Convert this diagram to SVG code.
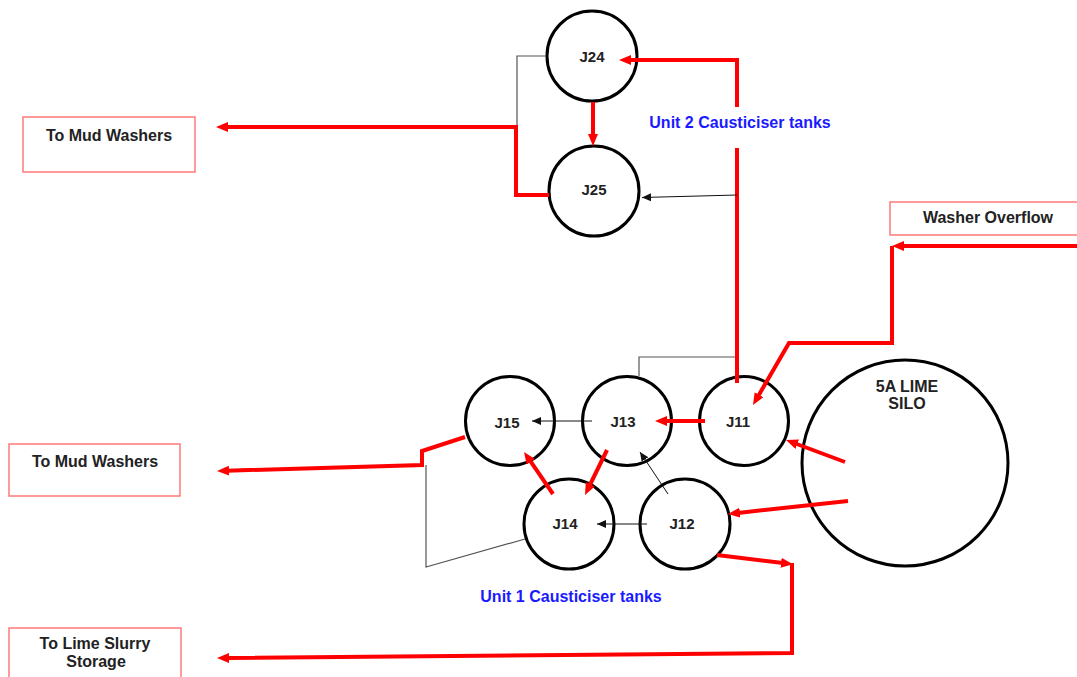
<svg xmlns="http://www.w3.org/2000/svg" width="1077" height="677" viewBox="0 0 1077 677">
<style>
.tank{fill:none;stroke:#000;stroke-width:3}
.lbl{font-family:"Liberation Sans",Arial,sans-serif;font-weight:bold;font-size:16px;fill:#222;text-anchor:middle}
.nl{font-family:"Liberation Sans",Arial,sans-serif;font-weight:bold;font-size:15px;fill:#222;text-anchor:middle}
.blue{font-family:"Liberation Sans",Arial,sans-serif;font-weight:bold;font-size:16px;fill:#1a1aff;text-anchor:middle}
.box{fill:#fff;stroke:#ff7a7a;stroke-width:1.5}
.red{fill:none;stroke:#ff0000;stroke-width:4;stroke-linejoin:miter}
.redA{fill:none;stroke:#ff0000;stroke-width:4;marker-end:url(#ra)}
.thin{fill:none;stroke:#111;stroke-width:1;marker-end:url(#ba)}
.gray{fill:none;stroke:#555;stroke-width:1.2}
</style>
<defs>
<marker id="ra" markerUnits="userSpaceOnUse" markerWidth="14" markerHeight="12" refX="2" refY="5" orient="auto">
<path d="M0,0 L12,5 L0,10 z" fill="#ff0000"/>
</marker>
<marker id="ba" markerUnits="userSpaceOnUse" markerWidth="10" markerHeight="10" refX="9" refY="4" orient="auto">
<path d="M0,0 L9,4 L0,8 z" fill="#111"/>
</marker>
</defs>
<rect width="1077" height="677" fill="#fff"/>
<g id="J24"><circle class="tank" cx="592" cy="56" r="45"/><text class="nl" x="592" y="62">J24</text></g>
<g id="J25"><circle class="tank" cx="594" cy="191" r="45"/><text class="nl" x="594" y="195">J25</text></g>
<g id="J15"><circle class="tank" cx="510" cy="421" r="44.5"/><text class="nl" x="507" y="428">J15</text></g>
<g id="J13"><circle class="tank" cx="627" cy="421" r="44.5"/><text class="nl" x="623" y="427">J13</text></g>
<g id="J11"><circle class="tank" cx="744" cy="421" r="44.5"/><text class="nl" x="738" y="427">J11</text></g>
<g id="J14"><circle class="tank" cx="569" cy="524" r="45"/><text class="nl" x="565" y="529">J14</text></g>
<g id="J12"><circle class="tank" cx="685" cy="524" r="45"/><text class="nl" x="682" y="529">J12</text></g>
<g id="silo"><circle class="tank" cx="905" cy="463" r="103"/><text class="lbl" x="907" y="392">5A LIME</text><text class="lbl" x="907" y="409">SILO</text></g>
<g id="mud1"><rect class="box" x="23" y="117" width="172" height="55"/><text class="lbl" x="109" y="141">To Mud Washers</text></g>
<g id="mud2"><rect class="box" x="9" y="444" width="171" height="52"/><text class="lbl" x="95" y="467">To Mud Washers</text></g>
<g id="slurry"><rect class="box" x="9" y="628" width="172" height="60"/><text class="lbl" x="95" y="649">To Lime Slurry</text><text class="lbl" x="96" y="667">Storage</text></g>
<g id="overflow"><rect class="box" x="890" y="202" width="200" height="33"/><text class="lbl" x="988" y="223">Washer Overflow</text></g>
<g id="unit2"><text class="blue" x="740" y="128">Unit 2 Causticiser tanks</text></g>
<g id="unit1"><text class="blue" x="571" y="602">Unit 1 Causticiser tanks</text></g>
<g id="connectors">
<path class="gray" d="M546,56 H517 V127"/>
<path class="gray" d="M639,376 V357 H736"/>
<path class="gray" d="M426,465 V567 L525,539"/>
<path class="redA" d="M737,107 V60 H629"/>
<path class="redA" d="M593,102 V136"/>
<path class="redA" d="M549,195 H516 V127 H226"/>
<path class="red" d="M737,148 V383"/>
<path class="redA" d="M705,421 H665"/>
<path class="redA" d="M607,450 L589.4,486"/>
<path class="redA" d="M553,494 L529.7,460.2"/>
<path class="redA" d="M465,437 L422,451 V465 L227,470.7"/>
<path class="redA" d="M1077,246 H902"/>
<path class="redA" d="M892,246 V343 H789 L758,396.4"/>
<path class="redA" d="M845,462 L795.4,443.5"/>
<path class="redA" d="M848,501 L737.9,512.9"/>
<path class="redA" d="M717,555 L783,563"/>
<path class="redA" d="M792,563 V653 L227,658"/>
<path class="thin" d="M737,195 L642,197.5"/>
<path class="thin" d="M592,421 H532"/>
<path class="thin" d="M668,494 L640,452"/>
<path class="thin" d="M647,524 H597"/>
</g>
</svg>
